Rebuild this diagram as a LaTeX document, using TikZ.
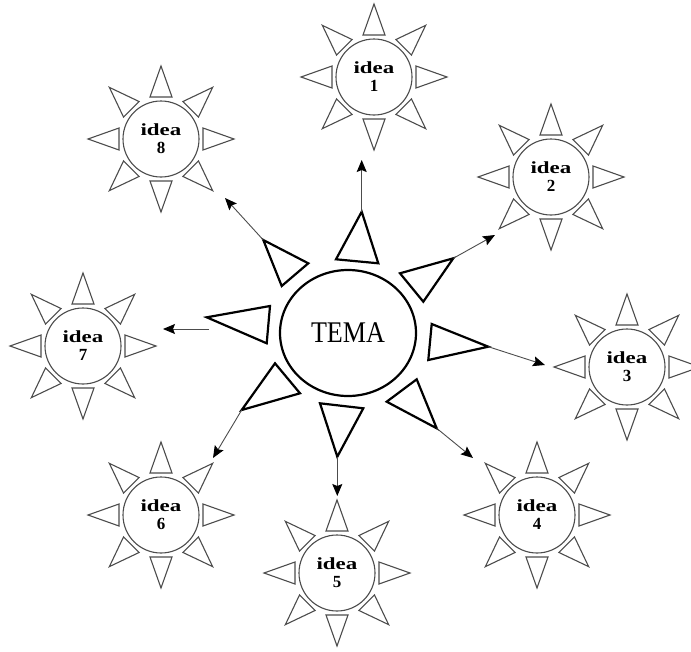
\documentclass[tikz,border=0pt]{standalone}
\usepackage{fontspec}
\setmainfont{Liberation Serif}
\usepackage{graphicx}
\usetikzlibrary{shapes.geometric,arrows.meta}

\tikzset{
  ray/.style={draw=black!70, line width=1.1pt, line join=miter},
  ideacirc/.style={circle, draw=black!70, line width=1.1pt, minimum size=76pt,
    inner sep=0pt, align=center, font=\fontsize{17}{18}\selectfont\bfseries},
  bigray/.style={draw=black, line width=2.2pt, line join=miter},
  temabox/.style={ellipse, draw=black, line width=2.2pt, minimum width=136pt,
    minimum height=126pt, inner sep=0pt, font=\fontsize{30}{30}\selectfont},
  link/.style={draw=black!70, line width=0.9pt,
    -{Stealth[length=12pt,width=10pt,inset=2pt,color=black]}},
}

% one small sun: circle with eight outward triangles
% #1 centre, #2 node name, #3 number
\newcommand\ideasun[3]{%
  \begin{scope}[shift={#1}]
    \foreach \a in {0,45,...,315}
      \draw[ray,rotate=\a] (42,-11) -- (73,0) -- (42,11) -- cycle;
  \end{scope}
  \node[ideacirc] (#2) at #1 {\scalebox{1.35}[1]{idea}\\#3};
}

\begin{document}
\begin{tikzpicture}[x=1pt,y=-1pt]
\useasboundingbox (0,0) rectangle (691,651);
\clip (0,0) rectangle (691,651);

% central theme
\node[temabox] (tema) at (348,333) {\scalebox{0.87}[1]{TEMA}};

% rays of the central sun (apexes named)
\coordinate (t1) at (361.7,211.7);
\coordinate (t2) at (453.3,258.3);
\coordinate (t3) at (488.3,346.7);
\coordinate (t4) at (436.7,428.3);
\coordinate (t5) at (337.3,456.7);
\coordinate (t6) at (241.7,410);
\coordinate (t7) at (206.7,317.3);
\coordinate (t8) at (263.3,240);

\draw[bigray] (336,259.3) -- (t1) -- (378.3,263.3) -- cycle;
\draw[bigray] (400,273.3) -- (t2) -- (423.3,301.7) -- cycle;
\draw[bigray] (431.7,324) -- (t3) -- (428.3,360) -- cycle;
\draw[bigray] (386.7,401.7) -- (t4) -- (416.7,379.3) -- cycle;
\draw[bigray] (320,403.3) -- (t5) -- (363.3,408.3) -- cycle;
\draw[bigray] (275,363.3) -- (t6) -- (300,393.3) -- cycle;
\draw[bigray] (270,306) -- (t7) -- (266.7,343.3) -- cycle;
\draw[bigray] (308.3,263.3) -- (t8) -- (281.7,286) -- cycle;

% the eight ideas
\ideasun{(374,77)}{i1}{1}
\ideasun{(551,177)}{i2}{2}
\ideasun{(627,367)}{i3}{3}
\ideasun{(537,515)}{i4}{4}
\ideasun{(337,573)}{i5}{5}
\ideasun{(161,515)}{i6}{6}
\ideasun{(83,346)}{i7}{7}
\ideasun{(161,139)}{i8}{8}

% arrow ends
\coordinate (e1) at (361.7,160);
\coordinate (e2) at (495,235);
\coordinate (e3) at (545,365);
\coordinate (e4) at (473,458);
\coordinate (e5) at (337.3,496);
\coordinate (e6) at (213,458);
\coordinate (s7) at (209,329);
\coordinate (e7) at (163,329);
\coordinate (e8) at (225,198);

\draw[link] (t1) -- (e1);
\draw[link] (t2) -- (e2);
\draw[link] (t3) -- (e3);
\draw[link] (t4) -- (e4);
\draw[link] (t5) -- (e5);
\draw[link] (t6) -- (e6);
\draw[link] (s7) -- (e7);
\draw[link] (t8) -- (e8);
\end{tikzpicture}
\end{document}
